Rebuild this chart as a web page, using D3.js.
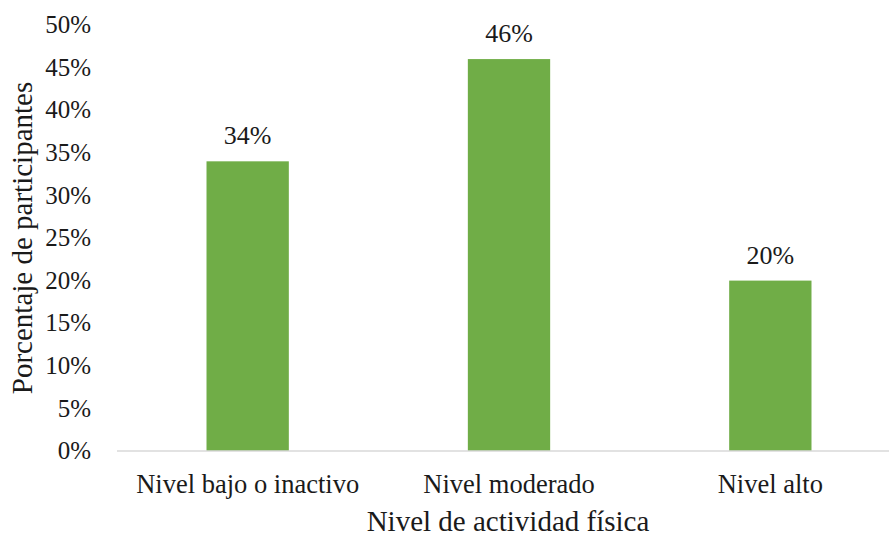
<!DOCTYPE html>
<html>
<head>
<meta charset="utf-8">
<script src="https://cdn.jsdelivr.net/npm/d3@7"></script>
</head>
<body style="margin:0">
<svg id="chart" width="889" height="533"></svg>
<script>
const categories = ["Nivel bajo o inactivo", "Nivel moderado", "Nivel alto"];
const values = [34, 46, 20];
const yTicks = [0, 5, 10, 15, 20, 25, 30, 35, 40, 45, 50];

const FONT = "'Liberation Serif'";
const svg = d3.select("#chart");
const plotLeft = 117, plotRight = 901, plotTop = 25, plotBottom = 451;

const x = d3.scaleBand().domain(categories).range([plotLeft, plotRight]).paddingInner(0).paddingOuter(0);
const y = d3.scaleLinear().domain([0, 50]).range([plotBottom, plotTop]);
const barW = x.bandwidth() * 0.315;

// Bars
svg.selectAll("rect.bar").data(values).join("rect")
  .attr("class", "bar")
  .attr("x", (d, i) => x(categories[i]) + x.bandwidth() / 2 - barW / 2)
  .attr("y", d => y(d))
  .attr("width", barW)
  .attr("height", d => y(0) - y(d))
  .attr("fill", "#70ad47");

// Category axis line
svg.append("line")
  .attr("x1", plotLeft).attr("x2", plotRight)
  .attr("y1", y(0)).attr("y2", y(0))
  .attr("stroke", "#d9d9d9").attr("stroke-width", 1.5);

// Value labels
svg.selectAll("text.val").data(values).join("text")
  .attr("class", "val")
  .attr("x", (d, i) => x(categories[i]) + x.bandwidth() / 2)
  .attr("y", d => y(d) - 17)
  .attr("text-anchor", "middle")
  .attr("font-size", 26)
  .style("font-family", FONT)
  .attr("fill", "#1a1a1a")
  .text(d => d + "%");

// Y tick labels
svg.selectAll("text.ytick").data(yTicks).join("text")
  .attr("class", "ytick")
  .attr("x", 91)
  .attr("y", d => y(d))
  .attr("dy", "0.33em")
  .attr("text-anchor", "end")
  .attr("font-size", 25)
  .style("font-family", FONT)
  .attr("fill", "#1a1a1a")
  .text(d => d + "%");

// Category labels
svg.selectAll("text.xtick").data(categories).join("text")
  .attr("class", "xtick")
  .attr("x", d => x(d) + x.bandwidth() / 2)
  .attr("y", 484)
  .attr("dy", "0.33em")
  .attr("text-anchor", "middle")
  .attr("font-size", 26.5)
  .style("font-family", FONT)
  .attr("fill", "#1a1a1a")
  .text(d => d);

// Axis titles
svg.append("text")
  .attr("x", 508).attr("y", 531)
  .attr("text-anchor", "middle")
  .attr("font-size", 29)
  .style("font-family", FONT)
  .attr("fill", "#1a1a1a")
  .text("Nivel de actividad física");

svg.append("text")
  .attr("transform", "translate(22,238) rotate(-90)")
  .attr("dy", "0.33em")
  .attr("text-anchor", "middle")
  .attr("font-size", 29)
  .style("font-family", FONT)
  .attr("fill", "#1a1a1a")
  .text("Porcentaje de participantes");
</script>
</body>
</html>
